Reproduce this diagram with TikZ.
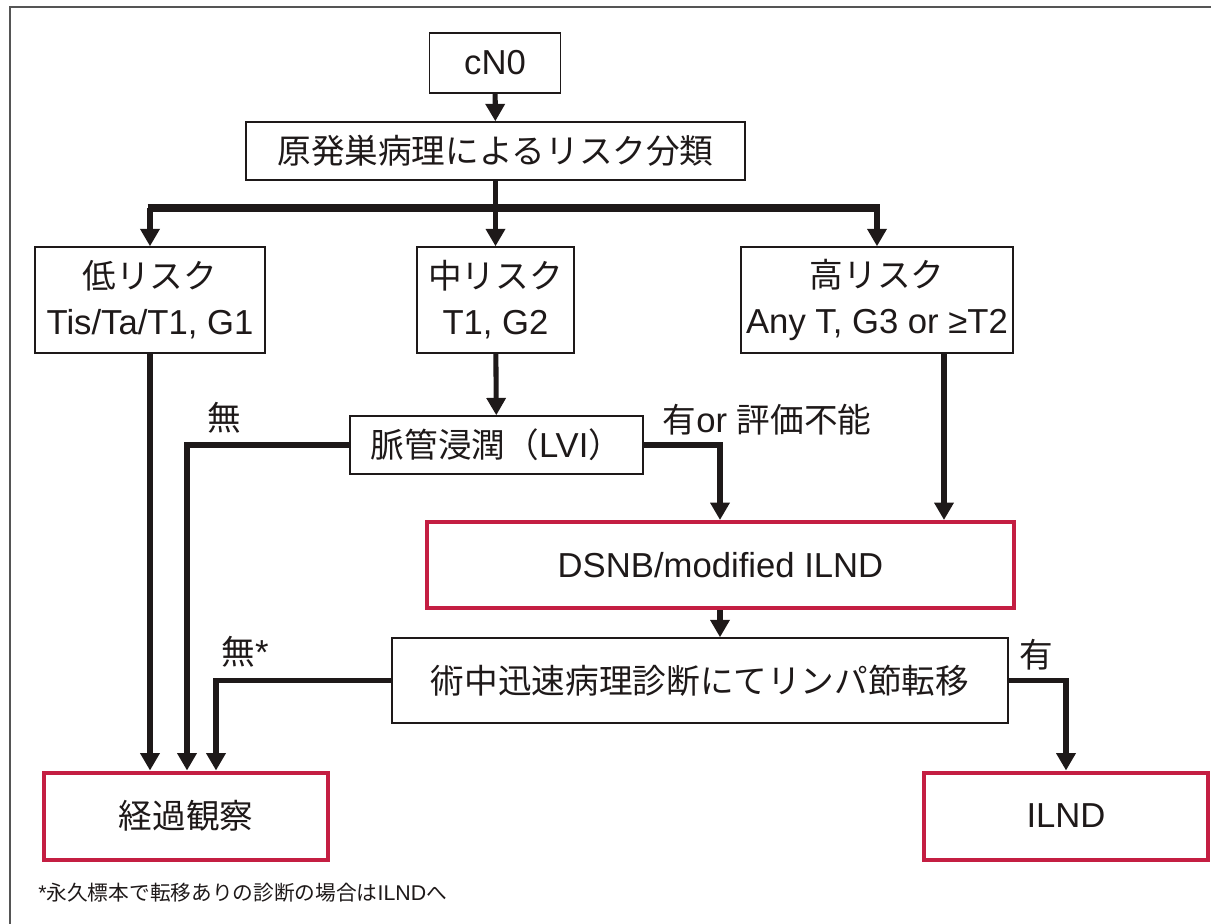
\documentclass[tikz,border=0pt]{standalone}
\usepackage{fontspec}
\setmainfont{Liberation Sans}
\newfontfamily\jp[Scale=0.97]{Noto Sans CJK JP}
\usetikzlibrary{arrows.meta}
\definecolor{boxred}{RGB}{196,30,66}
\definecolor{framegray}{RGB}{85,85,85}
\definecolor{ink}{RGB}{30,25,25}
\begin{document}
\begin{tikzpicture}[x=0.75pt,y=-0.75pt,
  sz/.style 2 args={minimum width=#1*0.75pt, minimum height=#2*0.75pt},
  box/.style={draw=ink, line width=1.1pt, fill=white, inner sep=0pt, align=center,
              text=ink, font=\fontsize{26}{34.5}\selectfont},
  redbox/.style={box, draw=boxred, line width=3pt},
  conn/.style={line width=3.8pt, draw=ink, line join=miter},
  arr/.style={conn, -{Triangle[length=13pt,width=14pt]}},
  lbl/.style={font=\fontsize{26}{28}\selectfont, inner sep=0pt, text=ink},
  note/.style={font=\fontsize{16}{18}\selectfont, inner sep=0pt, text=ink, anchor=west},
  frameline/.style={draw=framegray, line width=1.6pt}
]
\useasboundingbox (0,0) rectangle (1211,924);
\coordinate (fa) at (10,924);
\coordinate (fb) at (10,7);
\coordinate (fc) at (1211,7);
\draw[frameline] (fa) -- (fb) -- (fc);

% nodes
\node[box, sz={131}{60}] (cn0) at (495,63) {cN0};
\node[box, sz={499}{58}] (cat) at (495.5,151) {\jp 原発巣病理によるリスク分類};
\node[box, sz={230}{106}] (low) at (150,300) {{\jp 低リスク}\\Tis/Ta/T1, G1};
\node[box, sz={157}{106}] (mid) at (495.5,300) {{\jp 中リスク}\\T1, G2};
\node[box, sz={272}{106}] (high) at (877,300) {{\jp 高リスク}\\Any T, G3 or ≥T2};
\node[box, sz={293}{58}] (lvi) at (496.5,445) {{\jp 脈管浸潤（}LVI{\jp ）}};
\node[redbox, sz={587}{86}] (dsnb) at (720.5,565) {DSNB/modified ILND};
\node[box, sz={616}{85}] (iop) at (700,680.5) {\jp 術中迅速病理診断にてリンパ節転移};
\node[redbox, sz={284}{87}] (obs) at (186,816) {\jp 経過観察};
\node[redbox, sz={284}{87}] (ilnd) at (1066,816) {ILND};

% coordinates for bends
\coordinate (bar) at (495.5,208);
\coordinate (barl) at (147.5,208);
\coordinate (barr) at (879.5,208);
\coordinate (lvil) at (187,445);
\coordinate (lvir) at (720,445);
\coordinate (hd) at (944,353);
\coordinate (iopl) at (216,680.5);
\coordinate (iopr) at (1066,680.5);

% connectors
\draw[arr] (cn0) -- (cat);
\draw[conn] (cat.south) -- (bar);
\draw[conn, line width=5.5pt] (barl) -- (barr);
\draw[arr] (barl -| low.north) -- (low.north);
\draw[arr] (bar) -- (mid.north);
\draw[arr] (barr -| high.north) -- (high.north);
\draw[arr] (mid) -- (lvi);
\draw[arr] (lvi.west) -- (lvil) -- (lvil |- obs.north);
\draw[arr] (lvi.east) -- (lvir) -- (lvir |- dsnb.north);
\draw[arr] (hd |- high.south) -- (hd |- dsnb.north);
\draw[arr] (lvir |- dsnb.south) -- (lvir |- iop.north);
\draw[arr] (iop.west) -- (iopl) -- (iopl |- obs.north);
\draw[arr] (iop.east) -- (iopr) -- (ilnd.north);
\draw[arr] (low.south) -- (low.south |- obs.north);

% labels
\node[lbl] (l1) at (224,418) {\jp 無};
\node[lbl] (l2) at (767,420) {{\jp 有}or {\jp 評価不能}};
\node[lbl] (l3) at (245,652) {{\jp 無}*};
\node[lbl] (l4) at (1036,655) {\jp 有};
\node[note] (fn) at (38,893) {*{\jp 永久標本で転移ありの診断の場合は}ILND{\jp へ}};
\end{tikzpicture}
\end{document}
